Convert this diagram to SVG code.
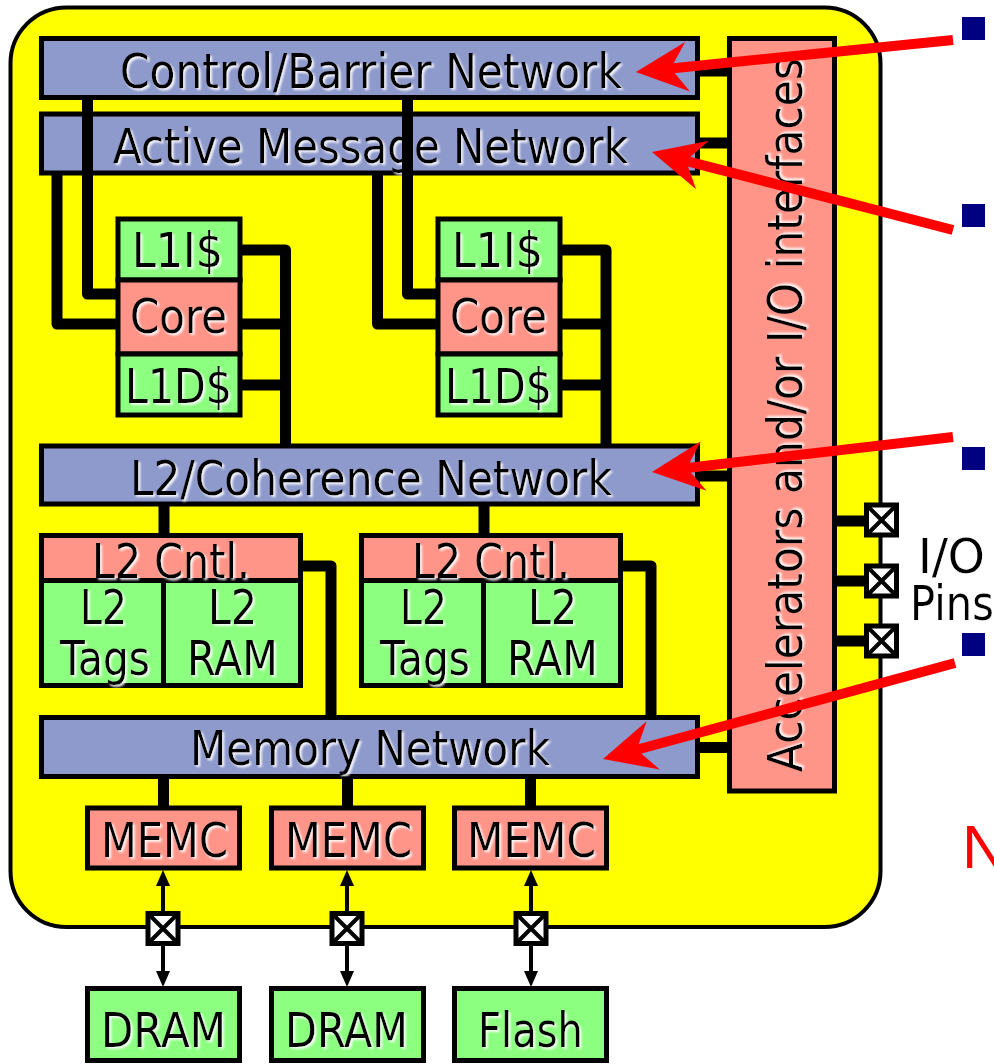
<svg xmlns="http://www.w3.org/2000/svg" width="994" height="1064" viewBox="0 0 994 1064">
<defs>
<style>
.net{fill:#8E99CC;stroke:#000;stroke-width:5}
.pk{fill:#FF9488;stroke:#000;stroke-width:5}
.gr{fill:#8CFF80;stroke:#000;stroke-width:5}
.t{font-family:"DejaVu Sans","Liberation Sans",sans-serif;font-size:48px;fill:#000;text-anchor:middle;filter:url(#sh)}
.w{fill:none;stroke:#000;stroke-width:11;stroke-linejoin:round}
.thin{fill:none;stroke:#000;stroke-width:4}
.red{fill:none;stroke:#FF0000;stroke-width:10}
.pin{fill:#fff;stroke:#000;stroke-width:5}
.bul{fill:#000080}
</style>
<filter id="sh" x="-30%" y="-60%" width="160%" height="220%">
<feDropShadow dx="2" dy="2" stdDeviation="1" flood-color="#fff" flood-opacity="0.9"/>
</filter>
<marker id="ra" viewBox="0 0 52 50" refX="17" refY="25" markerWidth="52" markerHeight="50" markerUnits="userSpaceOnUse" orient="auto">
<path d="M52,25 L0,0 L17,25 L0,50 Z" fill="#FF0000"/>
</marker>
<g id="pinshape">
<rect class="pin" x="-15" y="-15" width="30" height="30"/>
<path d="M-13,-13 L13,13 M13,-13 L-13,13" stroke="#000" stroke-width="4"/>
</g>
</defs>

<rect id="chip" x="10.5" y="7.5" width="870" height="919.5" rx="56" fill="#FFFF00" stroke="#000" stroke-width="4"/>

<g id="control-net"><rect class="net" x="41.5" y="38.5" width="656" height="59"/><text class="t" x="371" y="88" textLength="502" lengthAdjust="spacingAndGlyphs">Control/Barrier Network</text></g>
<g id="active-net"><rect class="net" x="41.5" y="114" width="656" height="59"/><text class="t" x="370.5" y="163" textLength="515" lengthAdjust="spacingAndGlyphs">Active Message Network</text></g>

<g id="tile1">
<rect class="gr" x="118" y="219" width="122" height="61"/><text class="t" x="177.5" y="267" textLength="91" lengthAdjust="spacingAndGlyphs">L1I$</text>
<rect class="pk" x="118" y="280" width="122" height="74"/><text class="t" x="178.5" y="333" textLength="97" lengthAdjust="spacingAndGlyphs">Core</text>
<rect class="gr" x="118" y="354" width="122" height="61"/><text class="t" x="178.5" y="403" textLength="107" lengthAdjust="spacingAndGlyphs">L1D$</text>
</g>
<g id="tile2">
<rect class="gr" x="438" y="219" width="122" height="61"/><text class="t" x="497.5" y="267" textLength="91" lengthAdjust="spacingAndGlyphs">L1I$</text>
<rect class="pk" x="438" y="280" width="122" height="74"/><text class="t" x="498.5" y="333" textLength="97" lengthAdjust="spacingAndGlyphs">Core</text>
<rect class="gr" x="438" y="354" width="122" height="61"/><text class="t" x="498.5" y="403" textLength="107" lengthAdjust="spacingAndGlyphs">L1D$</text>
</g>

<g id="l2coh-net"><rect class="net" x="41.5" y="446" width="656" height="58"/><text class="t" x="371" y="495" textLength="482" lengthAdjust="spacingAndGlyphs">L2/Coherence Network</text></g>

<g id="l2-1">
<rect class="gr" x="41.5" y="580.5" width="122" height="105"/>
<rect class="gr" x="163.5" y="580.5" width="137" height="105"/>
<rect class="pk" x="41.5" y="535.5" width="259" height="45"/>
<text class="t" x="171" y="578" textLength="158" lengthAdjust="spacingAndGlyphs">L2 Cntl.</text>
<text class="t" x="103.5" y="624" textLength="47" lengthAdjust="spacingAndGlyphs">L2</text>
<text class="t" x="105" y="675" textLength="90" lengthAdjust="spacingAndGlyphs">Tags</text>
<text class="t" x="232.5" y="624" textLength="49" lengthAdjust="spacingAndGlyphs">L2</text>
<text class="t" x="232.5" y="675" textLength="91" lengthAdjust="spacingAndGlyphs">RAM</text>
</g>
<g id="l2-2">
<rect class="gr" x="361.5" y="580.5" width="122" height="105"/>
<rect class="gr" x="483.5" y="580.5" width="137" height="105"/>
<rect class="pk" x="361.5" y="535.5" width="259" height="45"/>
<text class="t" x="491" y="578" textLength="158" lengthAdjust="spacingAndGlyphs">L2 Cntl.</text>
<text class="t" x="423.5" y="624" textLength="47" lengthAdjust="spacingAndGlyphs">L2</text>
<text class="t" x="425" y="675" textLength="90" lengthAdjust="spacingAndGlyphs">Tags</text>
<text class="t" x="552.5" y="624" textLength="49" lengthAdjust="spacingAndGlyphs">L2</text>
<text class="t" x="552.5" y="675" textLength="91" lengthAdjust="spacingAndGlyphs">RAM</text>
</g>

<g id="mem-net"><rect class="net" x="41.5" y="717.5" width="656" height="59"/><text class="t" x="370" y="765" textLength="360" lengthAdjust="spacingAndGlyphs">Memory Network</text></g>

<g id="accel"><rect class="pk" x="729.5" y="38.5" width="105" height="752.5"/><text class="t" transform="translate(802,415) rotate(-90)" x="0" y="0" textLength="714" lengthAdjust="spacingAndGlyphs">Accelerators and/or I/O interfaces</text></g>

<g id="memc1"><rect class="pk" x="87.5" y="808" width="152" height="60"/><text class="t" x="164.5" y="857" textLength="127" lengthAdjust="spacingAndGlyphs">MEMC</text></g>
<g id="memc2"><rect class="pk" x="271.5" y="808" width="152" height="60"/><text class="t" x="348.5" y="857" textLength="127" lengthAdjust="spacingAndGlyphs">MEMC</text></g>
<g id="memc3"><rect class="pk" x="454.5" y="808" width="152" height="60"/><text class="t" x="531.5" y="857" textLength="129" lengthAdjust="spacingAndGlyphs">MEMC</text></g>

<g id="dram1"><rect class="gr" x="87.5" y="988.5" width="152" height="72"/><text class="t" x="163.5" y="1047" textLength="125" lengthAdjust="spacingAndGlyphs">DRAM</text></g>
<g id="dram2"><rect class="gr" x="271.5" y="988.5" width="152" height="72"/><text class="t" x="346.5" y="1047" textLength="123" lengthAdjust="spacingAndGlyphs">DRAM</text></g>
<g id="flash"><rect class="gr" x="454.5" y="988.5" width="152" height="72"/><text class="t" x="530.5" y="1047" textLength="105" lengthAdjust="spacingAndGlyphs">Flash</text></g>

<g id="connectors">
<path class="w" d="M57,173 V324 H118"/>
<path class="w" d="M87.5,97.5 V294 H118"/>
<path class="w" d="M377.5,173 V324 H438"/>
<path class="w" d="M407.5,97.5 V294 H438"/>
<path class="w" d="M240,250 H285.5 V446 M240,324 H285.5 M240,385 H285.5"/>
<path class="w" d="M560,250 H606 V446 M560,324 H606 M560,385 H606"/>
<path class="w" d="M164,504 V535.5 M484,504 V535.5"/>
<path class="w" d="M300.5,566 H331 V717.5"/>
<path class="w" d="M620.5,566 H651 V717.5"/>
<path class="w" d="M163.5,776.5 V808 M347.5,776.5 V808 M530.5,776.5 V808"/>
<path class="w" d="M697.5,71 H729.5 M697.5,143 H729.5 M697.5,476 H729.5 M697.5,747.5 H729.5"/>
<path class="w" d="M834.5,521 H866 M834.5,581 H866 M834.5,641 H866"/>
<path class="thin" d="M163,884 V913 M163,944 V973 M347,884 V913 M347,944 V973 M531,884 V913 M531,944 V973"/>
<path d="M163,870 L156,886 L170,886 Z M163,987 L156,971 L170,971 Z M347,870 L340,886 L354,886 Z M347,987 L340,971 L354,971 Z M531,870 L524,886 L538,886 Z M531,987 L524,971 L538,971 Z" fill="#000"/>
</g>

<g id="io-pins">
<use href="#pinshape" x="881.5" y="520"/>
<use href="#pinshape" x="881.5" y="581"/>
<use href="#pinshape" x="881.5" y="641"/>
<use href="#pinshape" x="163" y="928.5"/>
<use href="#pinshape" x="347" y="928.5"/>
<use href="#pinshape" x="531" y="928.5"/>
</g>

<g id="io-label">
<text class="t" x="951.5" y="573" textLength="67" lengthAdjust="spacingAndGlyphs">I/O</text>
<text class="t" x="910" y="620" style="text-anchor:start" textLength="84" lengthAdjust="spacingAndGlyphs">Pins</text>
</g>

<g id="arrows">
<line class="red" x1="953" y1="40" x2="670.8" y2="68.5" marker-end="url(#ra)"/>
<line class="red" x1="953" y1="230" x2="685.9" y2="160.8" marker-end="url(#ra)"/>
<line class="red" x1="953" y1="437" x2="686.8" y2="468" marker-end="url(#ra)"/>
<line class="red" x1="955" y1="663" x2="636.8" y2="749.8" marker-end="url(#ra)"/>
</g>

<g id="bullets">
<rect class="bul" x="962" y="17" width="23" height="23"/>
<rect class="bul" x="962" y="204" width="23" height="23"/>
<rect class="bul" x="962" y="447" width="23" height="23"/>
<rect class="bul" x="962" y="633" width="23" height="23"/>
</g>

<text x="962" y="868" font-family="Liberation Sans, Arial, sans-serif" font-size="62" fill="#FF0000">N</text>
</svg>
